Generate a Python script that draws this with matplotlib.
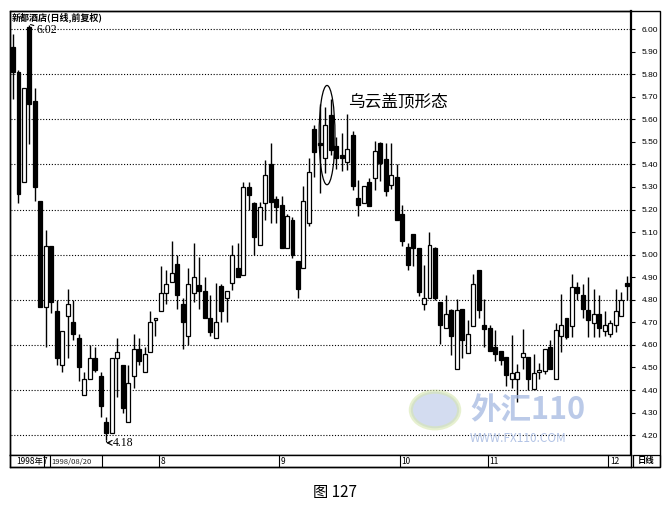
import matplotlib
matplotlib.use('Agg')
import matplotlib.pyplot as plt
from matplotlib.patches import Ellipse, Rectangle, Circle
import numpy as np

plt.rcParams['font.family'] = ['Noto Sans CJK SC', 'DejaVu Sans']

# 日K线数据 (开, 高, 低, 收), 估计值
opens = [5.92, 5.81, 5.32, 6.01, 5.68, 5.24, 4.77, 5.04, 4.75, 4.51,
         4.73, 4.70, 4.63, 4.38, 4.45, 4.54, 4.46, 4.26, 4.21, 4.54,
         4.51, 4.26, 4.46, 4.58, 4.48, 4.57, 4.71, 4.75, 4.83, 4.88,
         4.96, 4.78, 4.64, 4.83, 4.865, 4.84, 4.72, 4.63, 4.86, 4.81,
         4.875, 4.94, 4.91, 5.30, 5.23, 5.045, 5.23, 5.40, 5.245, 5.22,
         5.03, 5.155, 4.97, 4.94, 5.14, 5.555, 5.495, 5.43, 5.62, 5.48,
         5.44, 5.41, 5.53, 5.25, 5.23, 5.32, 5.34, 5.495, 5.425, 5.31,
         5.345, 5.18, 5.035, 5.09, 5.03, 4.78, 4.81, 5.03, 4.79, 4.675,
         4.755, 4.495, 4.76, 4.565, 4.685, 4.93, 4.69, 4.675, 4.59, 4.575,
         4.545, 4.45, 4.45, 4.545, 4.545, 4.405, 4.48, 4.485, 4.59, 4.45,
         4.64, 4.72, 4.685, 4.855, 4.82, 4.755, 4.695, 4.735, 4.66, 4.65,
         4.69, 4.73, 4.875]
highs = [5.98, 5.82, 5.74, 6.02, 5.74, 5.24, 5.11, 5.04, 4.80, 4.66,
         4.85, 4.80, 4.65, 4.48, 4.60, 4.59, 4.48, 4.28, 4.54, 4.63,
         4.51, 4.51, 4.65, 4.63, 4.59, 4.75, 4.72, 4.95, 4.93, 5.06,
         5.00, 4.81, 4.94, 5.05, 4.99, 4.90, 4.82, 4.875, 4.87, 4.84,
         5.045, 5.05, 5.32, 5.32, 5.235, 5.235, 5.42, 5.495, 5.26, 5.26,
         5.18, 5.165, 4.97, 5.305, 5.43, 5.575, 5.67, 5.655, 5.69, 5.52,
         5.54, 5.625, 5.55, 5.33, 5.305, 5.34, 5.505, 5.50, 5.495, 5.495,
         5.40, 5.22, 5.05, 5.09, 5.03, 4.955, 5.10, 5.035, 4.79, 4.82,
         4.76, 4.805, 4.76, 4.71, 4.915, 4.93, 4.805, 4.69, 4.665, 4.575,
         4.545, 4.645, 4.515, 4.67, 4.545, 4.56, 4.52, 4.58, 4.62, 4.695,
         4.825, 4.72, 4.915, 4.88, 4.87, 4.90, 4.85, 4.82, 4.75, 4.71,
         4.85, 4.835, 4.905]
lows = [5.69, 5.23, 5.32, 5.49, 5.24, 4.77, 4.59, 4.74, 4.51, 4.48,
        4.54, 4.62, 4.44, 4.38, 4.45, 4.48, 4.28, 4.18, 4.21, 4.37,
        4.30, 4.26, 4.41, 4.51, 4.48, 4.57, 4.64, 4.75, 4.78, 4.88,
        4.76, 4.58, 4.60, 4.79, 4.76, 4.72, 4.64, 4.63, 4.70, 4.70,
        4.845, 4.90, 4.91, 5.20, 5.00, 5.045, 5.155, 5.14, 5.14, 5.03,
        5.03, 4.985, 4.81, 4.94, 5.125, 5.345, 5.275, 5.36, 5.44, 5.38,
        5.37, 5.375, 5.285, 5.17, 5.23, 5.215, 5.285, 5.325, 5.26, 5.29,
        5.155, 5.04, 4.93, 4.95, 4.815, 4.755, 4.81, 4.80, 4.605, 4.675,
        4.555, 4.495, 4.54, 4.565, 4.685, 4.72, 4.59, 4.575, 4.53, 4.51,
        4.42, 4.41, 4.345, 4.495, 4.40, 4.405, 4.45, 4.47, 4.495, 4.45,
        4.57, 4.625, 4.635, 4.80, 4.72, 4.635, 4.635, 4.635, 4.64, 4.635,
        4.655, 4.73, 4.80]
closes = [5.81, 5.27, 5.74, 5.67, 5.30, 4.77, 5.04, 4.79, 4.54, 4.66,
          4.78, 4.65, 4.50, 4.45, 4.54, 4.49, 4.33, 4.21, 4.54, 4.57,
          4.32, 4.43, 4.58, 4.53, 4.56, 4.70, 4.72, 4.83, 4.87, 4.92,
          4.82, 4.70, 4.87, 4.90, 4.84, 4.72, 4.655, 4.70, 4.75, 4.84,
          5.00, 4.90, 5.30, 5.265, 5.08, 5.21, 5.355, 5.235, 5.21, 5.03,
          5.17, 5.00, 4.85, 5.24, 5.365, 5.455, 5.485, 5.575, 5.465, 5.43,
          5.43, 5.47, 5.305, 5.22, 5.305, 5.215, 5.46, 5.405, 5.28, 5.355,
          5.155, 5.06, 4.955, 5.03, 4.835, 4.81, 5.045, 4.81, 4.69, 4.735,
          4.64, 4.755, 4.62, 4.65, 4.87, 4.755, 4.67, 4.575, 4.56, 4.535,
          4.465, 4.475, 4.48, 4.565, 4.45, 4.475, 4.49, 4.58, 4.495, 4.665,
          4.69, 4.635, 4.855, 4.83, 4.76, 4.71, 4.735, 4.675, 4.69, 4.695,
          4.75, 4.80, 4.86]

month_pos = [27, 49, 71, 87, 109]
month_labels = ['8', '9', '10', '11', '12']
price_ticks = [4.20, 4.30, 4.40, 4.50, 4.60, 4.70, 4.80, 4.90, 5.00,
               5.10, 5.20, 5.30, 5.40, 5.50, 5.60, 5.70, 5.80, 5.90, 6.00]
grid_levels = [4.20, 4.40, 4.60, 4.80, 5.00, 5.20, 5.40, 5.60, 5.80, 6.00]

W, H = 671, 509
def box(x0, y0, x1, y1):
    # 像素坐标 -> figure 坐标
    return [x0 / W, 1 - y1 / H, (x1 - x0) / W, (y1 - y0) / H]

fig = plt.figure(figsize=(6.71, 5.09), dpi=100)
ax = fig.add_axes(box(10, 11, 631, 455))
ax2 = fig.add_axes(box(10, 455, 631, 467), sharex=ax)

n = len(opens)
x = np.arange(n)

# 网格线
ax.hlines(grid_levels, -1, n + 1, colors='black', linestyles=(0, (1, 1.6)), lw=0.8, zorder=1)

# 画K线
ax.vlines(x, lows, highs, colors='black', lw=1.0, zorder=2)
for i in range(n):
    o, c = opens[i], closes[i]
    h = max(abs(c - o), 0.008)
    if c >= o:
        fc = 'white'
    else:
        fc = 'black'
    ax.bar(i, h, bottom=min(o, c), width=0.72, facecolor=fc, edgecolor='black', lw=0.9, zorder=3)

ax.set_xlim(-0.55, 112.77)
ax.set_ylim(4.112, 6.08)
ax.yaxis.tick_right()
ax.set_yticks(price_ticks)
ax.set_yticklabels(['%.2f' % p for p in price_ticks], fontsize=6, family=['Liberation Sans'])
ax.tick_params(axis='y', length=3, width=0.8, pad=5)
ax.tick_params(axis='x', bottom=False, labelbottom=False)
for s in ax.spines.values():
    s.set_linewidth(1.0)
ax.spines['right'].set_linewidth(1.6)

# 标题
ax.text(0.003, 0.997, '新都酒店(日线,前复权)', transform=ax.transAxes, fontsize=6.5,
        fontweight='bold', va='top', ha='left')

# 最高最低点标注
ax.annotate('6.02', xy=(3.2, 6.02), xytext=(4.3, 5.998), fontsize=8.5, va='center',
            family=['Liberation Serif'], arrowprops=dict(arrowstyle='-', lw=0.8, shrinkA=0, shrinkB=0))
ax.vlines(17, 4.168, 4.18, colors='black', lw=0.8)
ax.annotate('4.18', xy=(17, 4.166), xytext=(18.2, 4.166), fontsize=8.5, va='center',
            family=['Liberation Serif'], arrowprops=dict(arrowstyle='->', lw=0.8, shrinkA=0, shrinkB=0))

# 乌云盖顶
ax.add_patch(Ellipse((57.3, 5.53), 2.9, 0.44, fill=False, edgecolor='black', lw=0.9, zorder=4))
ax.text(61.2, 5.675, '乌云盖顶形态', fontsize=12, va='center', ha='left')

# 水印
fig.patches.append(Circle((435 / W, 1 - 410 / H), 0.036, transform=fig.transFigure,
                          facecolor='#b6c6e6', edgecolor='#d6e6b0', lw=3, alpha=0.6))
fig.text(470 / W, 1 - 410 / H, '外汇110', fontsize=22, color='#aabde3', alpha=0.8,
         style='italic', fontweight='bold', va='center', ha='left')
fig.text(470 / W, 1 - 438 / H, 'WWW.FX110.COM', fontsize=8.5, color='#aabde3', alpha=0.9,
         style='italic', va='center', ha='left')

# 日期栏
ax2.set_ylim(0, 1)
ax2.set_yticks([])
ax2.tick_params(axis='x', bottom=False, labelbottom=False)
for s in ax2.spines.values():
    s.set_linewidth(1.0)
ax2.text(0.6, 0.45, '1998年7', fontsize=6, va='center', ha='left')
ax2.axvline(5.6, color='black', lw=0.8)
ax2.axvline(6.7, color='black', lw=0.8)
ax2.text(7.0, 0.45, '1998/08/20', fontsize=5.5, va='center', ha='left', color='#222222')
ax2.axvline(16.3, color='black', lw=0.8)
for p, lab in zip(month_pos, month_labels):
    ax2.axvline(p - 0.4, color='black', lw=0.8)
    ax2.text(p - 0.1, 0.45, lab, fontsize=6, va='center', ha='left')

# 右侧外框和“日线”
fig.patches.append(Rectangle((10 / W, 1 - 467 / H), 650 / W, 456 / H, transform=fig.transFigure,
                             fill=False, edgecolor='black', lw=1.0))
fig.patches.append(Rectangle((633 / W, 1 - 467 / H), 27 / W, 12 / H, transform=fig.transFigure,
                             fill=False, edgecolor='black', lw=0.9))
fig.text(646 / W, 1 - 461 / H, '日线', fontsize=6, fontweight='bold', va='center', ha='center')

# 图号
fig.text(335 / W, 1 - 493 / H, '图 127', fontsize=11, va='center', ha='center')

plt.savefig('out.png', dpi=100)
